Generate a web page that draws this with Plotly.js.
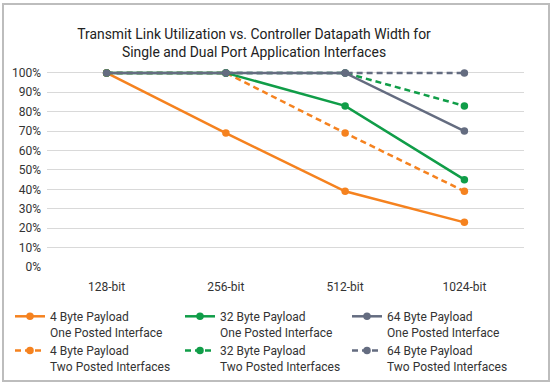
<!DOCTYPE html>
<html>
<head>
<meta charset="utf-8">
<script src="https://cdn.plot.ly/plotly-3.0.1.min.js"></script>
<style>
  html, body { margin: 0; padding: 0; background: #fff; }
  #wrap { position: relative; width: 554px; height: 387px; }
  #chart { width: 554px; height: 387px; }
  #frame { position: absolute; left: 2px; top: 3px; width: 544px; height: 375px;
           border: 2px solid #bdbdbd; pointer-events: none; }
</style>
</head>
<body>
<div id="wrap">
  <div id="chart"></div>
  <div id="frame"></div>
</div>
<script>
const categories = ["128-bit", "256-bit", "512-bit", "1024-bit"];

const byte4One  = [100, 69, 39, 23];
const byte32One = [100, 100, 83, 45];
const byte64One = [100, 100, 100, 70];
const byte4Two  = [100, 100, 69, 39];
const byte32Two = [100, 100, 100, 83];
const byte64Two = [100, 100, 100, 100];

const seriesNames = [
  "4 Byte Payload<br>One Posted Interface",
  "32 Byte Payload<br>One Posted Interface",
  "64 Byte Payload<br>One Posted Interface",
  "4 Byte Payload<br>Two Posted Interfaces",
  "32 Byte Payload<br>Two Posted Interfaces",
  "64 Byte Payload<br>Two Posted Interfaces"
];

const yTickVals = [0, 10, 20, 30, 40, 50, 60, 70, 80, 90, 100];
const yTickText = ["0%", "10%", "20%", "30%", "40%", "50%", "60%", "70%", "80%", "90%", "100%"];

const ORANGE = "#F5821F", GREEN = "#109D48", GRAY = "#646C80";

function tr(y, name, color, dashed, legendId, rank) {
  return {
    x: categories, y: y, name: name, type: "scatter", mode: "lines+markers",
    line: { color: color, width: 2.5, dash: dashed ? "6px,4px" : "solid" },
    marker: { color: color, size: 7.5, symbol: "circle" },
    legend: legendId, legendrank: rank
  };
}

const data = [
  tr(byte4Two,  seriesNames[3], ORANGE, true,  "legend",  2),
  tr(byte32Two, seriesNames[4], GREEN,  true,  "legend2", 2),
  tr(byte64Two, seriesNames[5], GRAY,   true,  "legend3", 2),
  tr(byte4One,  seriesNames[0], ORANGE, false, "legend",  1),
  tr(byte32One, seriesNames[1], GREEN,  false, "legend2", 1),
  tr(byte64One, seriesNames[2], GRAY,   false, "legend3", 1)
];

function leg(xpx) {
  return {
    orientation: "v", x: xpx / 554, xref: "container", xanchor: "left",
    y: 1 - 302 / 387, yref: "container", yanchor: "top",
    font: { size: 12, color: "#333333" }, valign: "top",
    traceorder: "normal", itemwidth: 30, tracegroupgap: 0,
    bgcolor: "rgba(0,0,0,0)"
  };
}

const layout = {
  width: 554, height: 387,
  paper_bgcolor: "#ffffff", plot_bgcolor: "#ffffff",
  font: { family: "Roboto, 'Noto Sans', sans-serif", size: 12, color: "#333333" },
  margin: { l: 47, r: 30, t: 69, b: 120, autoexpand: false },
  title: {
    text: "Transmit Link Utilization vs. Controller Datapath Width for<br>Single and Dual Port Application Interfaces",
    font: { family: "Roboto, sans-serif", size: 13.9, color: "#222222" },
    x: 254 / 554, xref: "container", xanchor: "center",
    y: 1 - 39 / 387, yref: "container", yanchor: "top"
  },
  xaxis: {
    type: "category", range: [-0.5, 3.5],
    showgrid: false, zeroline: false, showline: false,
    ticks: "", tickfont: { size: 12, color: "#333333" }, ticklabelstandoff: 11
  },
  yaxis: {
    range: [0, 102], tickvals: yTickVals, ticktext: yTickText,
    showgrid: true, gridcolor: "#d9d9d9", gridwidth: 1,
    zeroline: false, showline: false, ticks: "",
    tickfont: { size: 12, color: "#333333" }, ticklabelstandoff: 5
  },
  showlegend: true,
  legend: leg(10),
  legend2: leg(180),
  legend3: leg(347)
};

Plotly.newPlot("chart", data, layout, { staticPlot: true, displayModeBar: false });
</script>
</body>
</html>
